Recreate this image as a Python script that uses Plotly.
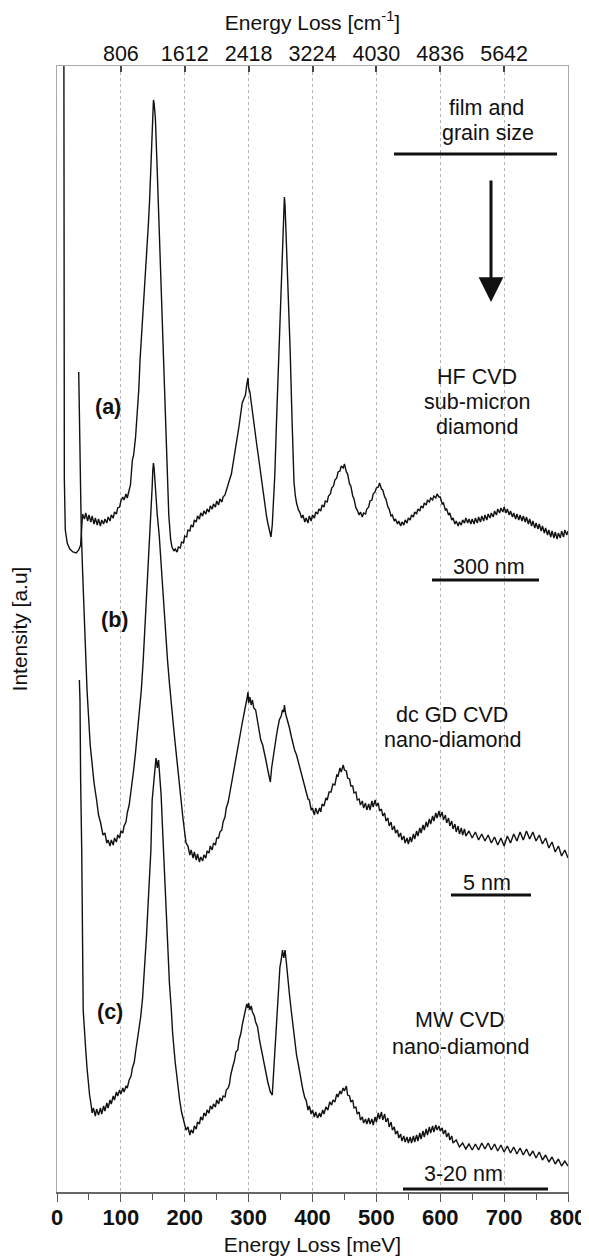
import plotly.graph_objects as go

# ---------------- data (Energy loss in meV, intensity in arbitrary units) -------------
a_mev = [10.5, 11.5, 13, 16, 20, 25, 30, 34, 37, 39,
         40, 43, 45, 48, 50, 53, 55, 58, 60, 63, 65, 68, 70, 73, 75, 78, 80, 83, 85, 88,
         90, 93, 95, 98, 100, 103, 105, 108, 110, 113, 115, 118, 120, 123, 125, 128, 130, 133, 135, 138,
         140, 143, 145, 148, 150, 151, 152, 154, 157, 160, 163, 165, 168, 170, 173, 175, 178, 180, 183, 185,
         188, 190, 193, 195, 198, 200, 203, 205, 208, 210, 213, 215, 218, 220, 223, 225, 228, 230, 233, 235,
         238, 240, 243, 245, 248, 250, 253, 255, 258, 260, 263, 265, 268, 270, 273, 275, 278, 280, 283, 285,
         288, 290, 293, 295, 297, 299, 300, 302, 304, 307, 310, 313, 315, 318, 320, 323, 325, 328, 330, 333,
         335, 337, 339, 341, 344, 347, 350, 353, 355, 356, 357, 359, 362, 365, 368, 371, 373, 375, 378, 380,
         383, 385, 388, 390, 393, 395, 398, 400, 403, 405, 408, 410, 413, 415, 418, 420, 423, 425, 428, 430,
         433, 435, 438, 440, 443, 445, 448, 450, 453, 455, 458, 460, 463, 465, 468, 470, 473, 475, 478, 480,
         483, 485, 488, 490, 493, 495, 498, 500, 503, 505, 508, 510, 513, 515, 518, 520, 523, 525, 528, 530,
         533, 535, 538, 540, 543, 545, 548, 550, 553, 555, 558, 560, 563, 565, 568, 570, 573, 575, 578, 580,
         583, 585, 588, 590, 593, 595, 598, 600, 603, 605, 608, 610, 613, 615, 618, 620, 623, 625, 628, 630,
         633, 635, 638, 640, 643, 645, 648, 650, 653, 655, 658, 660, 663, 665, 668, 670, 673, 675, 678, 680,
         683, 685, 688, 690, 693, 695, 698, 700, 703, 705, 708, 710, 713, 715, 718, 720, 723, 725, 728, 730,
         733, 735, 738, 740, 743, 745, 748, 750, 753, 755, 758, 760, 763, 765, 768, 770, 773, 775, 778, 780,
         783, 785, 788, 790, 793, 795, 798, 800]
a_int = [1300, 712, 662, 649, 643, 640, 639, 642, 647, 677,
         678, 673, 679, 671, 677, 670, 676, 668, 674, 667, 673, 666, 672, 668, 673, 669, 675, 671, 677, 674,
         680, 678, 684, 685, 691, 695, 692, 698, 694, 702, 707, 732, 737, 755, 772, 802, 832, 862, 885, 907,
         930, 967, 992, 1047, 1084, 1092, 1089, 1074, 1020, 965, 902, 866, 812, 774, 715, 677, 652, 645, 641, 643,
         640, 645, 644, 650, 649, 656, 655, 662, 661, 667, 665, 672, 670, 676, 673, 679, 676, 681, 678, 683,
         680, 686, 683, 688, 685, 691, 687, 693, 690, 695, 697, 702, 708, 712, 718, 726, 734, 744, 755, 766,
         780, 789, 794, 797, 807, 814, 804, 800, 790, 777, 762, 746, 737, 722, 712, 697, 687, 676, 669, 660,
         655, 667, 692, 717, 777, 837, 892, 952, 987, 995, 987, 954, 897, 842, 772, 710, 697, 689, 682, 680,
         674, 677, 670, 674, 669, 676, 671, 677, 674, 680, 678, 683, 681, 687, 685, 691, 690, 696, 698, 704,
         706, 712, 714, 720, 721, 726, 724, 728, 720, 718, 708, 706, 696, 693, 684, 682, 677, 680, 675, 679,
         678, 683, 685, 691, 692, 698, 700, 704, 705, 709, 703, 702, 695, 693, 685, 683, 676, 677, 671, 673,
         668, 671, 666, 670, 667, 672, 669, 674, 672, 677, 675, 680, 678, 683, 681, 686, 684, 689, 687, 692,
         690, 694, 692, 696, 694, 698, 695, 695, 688, 689, 682, 683, 677, 679, 672, 674, 668, 671, 666, 670,
         667, 672, 669, 674, 669, 673, 668, 673, 668, 674, 669, 675, 670, 676, 671, 677, 672, 678, 674, 679,
         675, 681, 677, 683, 679, 684, 680, 685, 679, 683, 677, 681, 675, 679, 673, 678, 672, 677, 671, 676,
         670, 675, 668, 673, 666, 671, 664, 669, 663, 668, 661, 666, 659, 664, 657, 662, 655, 661, 654, 660,
         653, 659, 654, 661, 655, 662, 657, 661]

b_mev = [34, 35, 36, 38, 40, 43, 47, 52, 55, 58, 62, 65, 68, 72, 75, 78, 80, 83, 85, 88,
         90, 93, 95, 98, 100, 103, 105, 108, 110, 113, 115, 118, 120, 123, 126, 129, 132, 135, 138, 141,
         144, 147, 149, 150, 151, 152, 153, 155, 157, 160, 163, 165, 168, 170, 173, 176, 178, 181, 184, 186,
         189, 191, 194, 197, 200, 202, 205, 208, 210, 213, 215, 218, 220, 223, 225, 228, 230, 233, 235, 238,
         240, 243, 245, 248, 250, 253, 255, 258, 260, 263, 265, 268, 270, 273, 275, 278, 280, 283, 285, 288,
         290, 293, 295, 297, 299, 300, 302, 304, 306, 308, 311, 314, 316, 319, 322, 325, 327, 330, 332, 334,
         336, 338, 340, 343, 345, 348, 351, 353, 355, 356, 358, 361, 364, 367, 369, 372, 375, 378, 380, 383,
         385, 388, 390, 393, 395, 398, 400, 403, 405, 408, 411, 413, 415, 418, 421, 423, 426, 429, 432, 435,
         438, 440, 443, 445, 448, 450, 453, 455, 458, 460, 463, 465, 468, 470, 473, 475, 478, 480, 483, 485,
         488, 490, 493, 495, 498, 500, 503, 505, 508, 510, 513, 515, 518, 520, 523, 525, 528, 530, 533, 535,
         538, 540, 543, 545, 548, 550, 553, 555, 558, 560, 563, 565, 568, 570, 573, 575, 578, 580, 583, 585,
         588, 590, 593, 595, 598, 600, 603, 605, 608, 610, 613, 615, 618, 620, 623, 625, 628, 630, 633, 635,
         638, 640, 645, 650, 655, 660, 665, 670, 675, 680, 685, 690, 695, 700, 705, 710, 715, 720, 725, 730,
         735, 740, 745, 750, 755, 760, 765, 770, 775, 780, 785, 790, 795, 800]
b_int = [820, 772, 722, 662, 622, 567, 502, 447, 424, 409, 392, 377, 370, 357, 359, 349, 352, 346, 352, 347,
         354, 350, 357, 354, 361, 359, 366, 370, 379, 387, 397, 410, 422, 440, 459, 480, 502, 532, 567, 600,
         637, 677, 705, 722, 729, 724, 712, 687, 677, 657, 627, 609, 577, 559, 532, 509, 492, 475, 455, 442,
         422, 409, 392, 375, 359, 349, 346, 337, 342, 334, 340, 332, 338, 330, 335, 331, 337, 334, 341, 339,
         346, 342, 349, 347, 354, 354, 360, 362, 370, 375, 384, 390, 397, 408, 417, 429, 432, 447, 454, 464,
         469, 479, 484, 492, 500, 489, 495, 487, 492, 484, 482, 470, 464, 452, 447, 436, 432, 422, 417, 410,
         424, 434, 442, 454, 462, 472, 476, 482, 480, 487, 478, 472, 464, 455, 449, 442, 437, 430, 425, 418,
         414, 405, 402, 393, 392, 382, 384, 377, 384, 378, 384, 380, 388, 386, 394, 392, 400, 400, 408, 407,
         417, 416, 424, 420, 427, 422, 421, 414, 413, 406, 406, 399, 400, 392, 393, 387, 391, 384, 389, 382,
         388, 382, 391, 385, 392, 386, 389, 381, 383, 376, 379, 371, 374, 366, 370, 362, 366, 359, 362, 355,
         359, 352, 356, 349, 354, 348, 355, 350, 358, 353, 361, 356, 364, 359, 367, 362, 370, 365, 373, 368,
         376, 371, 379, 374, 381, 375, 380, 372, 377, 369, 374, 366, 371, 363, 368, 360, 366, 358, 364, 357,
         363, 356, 361, 354, 360, 352, 358, 351, 357, 349, 355, 347, 354, 346, 356, 349, 358, 351, 360, 352,
         361, 353, 360, 351, 357, 348, 354, 344, 350, 340, 346, 336, 342, 334]

c_mev = [35, 36, 37, 38.7, 41, 43, 45, 47, 49, 51, 53, 55, 57, 60, 62, 65, 68, 70, 73, 75,
         78, 80, 83, 85, 88, 90, 93, 95, 98, 100, 103, 105, 108, 110, 113, 116, 118, 121, 123, 126,
         129, 131, 134, 137, 140, 142, 145, 147, 149, 151, 153, 155, 156, 157, 159, 161, 163, 165, 167, 170,
         173, 176, 179, 181, 185, 189, 192, 195, 197, 200, 202, 205, 208, 210, 213, 215, 218, 220, 223, 225,
         228, 230, 233, 235, 238, 240, 243, 245, 248, 250, 253, 255, 258, 260, 263, 265, 268, 270, 272, 275,
         278, 280, 283, 285, 288, 290, 293, 295, 297, 299, 300, 302, 304, 306, 309, 311, 314, 317, 320, 323,
         325, 327, 330, 332, 334, 337, 339, 341, 343, 345, 347, 349, 351, 353, 355, 357, 359, 361, 364, 367,
         370, 372, 375, 378, 380, 383, 385, 388, 390, 393, 395, 398, 400, 403, 405, 408, 411, 413, 416, 418,
         421, 424, 427, 430, 432, 435, 438, 440, 443, 445, 448, 450, 453, 455, 458, 460, 463, 465, 468, 470,
         473, 475, 478, 480, 483, 485, 488, 490, 493, 495, 498, 500, 503, 505, 508, 510, 513, 515, 518, 520,
         523, 525, 528, 530, 533, 535, 538, 540, 543, 545, 548, 550, 553, 555, 558, 560, 563, 565, 568, 570,
         573, 575, 578, 580, 583, 585, 588, 590, 593, 595, 598, 600, 603, 605, 608, 610, 613, 615, 618, 620,
         625, 630, 635, 640, 645, 650, 655, 660, 665, 670, 675, 680, 685, 690, 695, 700, 705, 710, 715, 720,
         725, 730, 735, 740, 745, 750, 755, 760, 765, 770, 775, 780, 785, 790, 795, 800]
c_int = [512, 492, 412, 342, 182, 157, 142, 124, 109, 97, 89, 79, 84, 76, 83, 77, 84, 78, 86, 81,
         89, 84, 92, 88, 96, 92, 100, 96, 102, 98, 104, 100, 106, 104, 112, 116, 124, 130, 140, 152,
         164, 175, 194, 220, 255, 280, 312, 342, 392, 407, 422, 434, 430, 424, 432, 415, 397, 367, 337, 292,
         247, 209, 182, 159, 130, 107, 92, 80, 75, 66, 62, 65, 57, 62, 59, 66, 63, 70, 68, 75,
         72, 79, 76, 82, 79, 86, 83, 88, 85, 92, 88, 94, 91, 96, 95, 102, 104, 108, 117, 125,
         132, 140, 142, 152, 159, 167, 175, 180, 188, 184, 189, 182, 186, 180, 176, 170, 165, 152, 142, 132,
         124, 119, 110, 105, 100, 97, 117, 137, 162, 187, 207, 225, 232, 242, 234, 242, 230, 215, 197, 180,
         162, 149, 137, 127, 120, 107, 102, 94, 92, 82, 86, 78, 82, 75, 80, 74, 79, 75, 82, 78,
         85, 82, 90, 87, 92, 90, 98, 95, 101, 98, 104, 101, 106, 97, 96, 90, 92, 84, 85, 78,
         80, 72, 75, 69, 73, 68, 74, 68, 73, 67, 75, 70, 79, 73, 80, 72, 78, 70, 74, 65,
         70, 62, 65, 58, 61, 54, 58, 51, 56, 50, 55, 49, 55, 49, 56, 50, 57, 51, 59, 53,
         61, 55, 63, 57, 65, 59, 66, 60, 67, 62, 66, 61, 64, 58, 62, 55, 59, 52, 56, 49,
         52, 45, 49, 43, 48, 42, 48, 42, 49, 43, 49, 42, 48, 41, 47, 40, 46, 39, 45, 38,
         44, 37, 43, 36, 41, 34, 40, 32, 37, 30, 35, 28, 33, 26, 31, 26]

# tick labels
bottom_tickvals = [0, 100, 200, 300, 400, 500, 600, 700, 800]
bottom_ticktext = ["0", "100", "200", "300", "400", "500", "600", "700", "800"]
top_tickvals = [100, 200, 300, 400, 500, 600, 700]
top_ticktext = ["806", "1612", "2418", "3224", "4030", "4836", "5642"]

# ---------------- figure -------------------------------------------------------------
# the page body adds an 8 px margin, so the figure is drawn 8 px smaller
OFF = 8
W, H = 589 - OFF, 1260 - OFF
L, R, T, B = 57 - OFF, 21, 66 - OFF, 68
PW, PH = W - L - R, H - T - B
FONT = "Liberation Sans, Arial, Helvetica, sans-serif"


def px(xr):
    """reference-window x pixel -> paper x"""
    return (xr - OFF - L) / PW


def py(yr):
    """reference-window y pixel -> paper y"""
    return (H - B - (yr - OFF)) / PH


fig = go.Figure()
line_style = dict(color="#111111", width=1.4)
for name, xs, ys in [("(a) HF CVD sub-micron diamond", a_mev, a_int),
                     ("(b) dc GD CVD nano-diamond", b_mev, b_int),
                     ("(c) MW CVD nano-diamond", c_mev, c_int)]:
    fig.add_trace(go.Scatter(x=xs, y=ys, mode="lines", line=line_style, name=name,
                             showlegend=False))
# carrier for the top (cm^-1) axis
fig.add_trace(go.Scatter(x=a_mev, y=a_int, xaxis="x2", mode="none", showlegend=False,
                         hoverinfo="skip"))

fig.update_layout(
    width=W, height=H, margin=dict(l=L, r=R, t=T, b=B, autoexpand=False),
    paper_bgcolor="white", plot_bgcolor="white",
    font=dict(family=FONT, color="#111111"),
    xaxis=dict(range=[0, 800], tickvals=bottom_tickvals, ticktext=bottom_ticktext,
               tickfont=dict(size=22, weight="bold", family=FONT),
               ticks="outside", ticklen=8, tickwidth=1, tickcolor="#555555",
               ticklabelstandoff=-3,
               minor=dict(dtick=50, ticks="outside", ticklen=6, tickcolor="#555555",
                          showgrid=False),
               showline=True, linecolor="#666666", linewidth=1.5,
               showgrid=True, gridcolor="#b5b5b5", griddash="dot", gridwidth=1,
               zeroline=False,
               title=dict(text="Energy Loss [meV]", font=dict(size=21), standoff=8)),
    xaxis2=dict(range=[0, 800], overlaying="x", side="top", tickvals=top_tickvals,
                ticktext=top_ticktext, tickfont=dict(size=21.5),
                ticks="inside", ticklen=6, tickwidth=2, tickcolor="#444444",
                ticklabelstandoff=-5,
                showline=True, linecolor="#aaaaaa", linewidth=1,
                showgrid=False, zeroline=False,
                title=dict(text="Energy Loss [cm<sup>-1</sup>]", font=dict(size=21), standoff=8)),
    yaxis=dict(range=[0, 1126], showticklabels=False, ticks="", showgrid=False, zeroline=False,
               showline=True, linecolor="#aaaaaa", linewidth=1, mirror=True,
               title=dict(text="Intensity [a.u]", font=dict(size=21), standoff=29)),
)

ann = []


def txt(t, xr, yr, size=21.5, bold=False):
    ann.append(dict(text=t, x=px(xr), y=py(yr), xref="paper", yref="paper",
                    xanchor="center", yanchor="middle", showarrow=False,
                    font=dict(size=size, family=FONT, color="#111111",
                              weight="bold" if bold else "normal")))


txt("film and", 486, 108)
txt("grain size", 488, 133)
txt("HF CVD", 477, 377)
txt("sub-micron", 477, 402)
txt("diamond", 477, 427)
txt("300 nm", 489, 567)
txt("(a)", 108, 407, bold=True)
txt("(b)", 114, 620, bold=True)
txt("(c)", 110, 1012, bold=True)
txt("dc GD CVD", 452, 715)
txt("nano-diamond", 452, 740)
txt("5 nm", 487, 883)
txt("MW CVD", 460, 1020)
txt("nano-diamond", 460, 1047)
txt("3-20 nm", 463, 1174)

# arrow
ann.append(dict(x=px(491), y=py(302), xref="paper", yref="paper", ax=0, ay=-123,
                axref="pixel", ayref="pixel", text="", showarrow=True,
                arrowhead=2, arrowsize=1.65, arrowwidth=3, arrowcolor="#111111"))
fig.update_layout(annotations=ann)

shapes = []
for x0, x1, yy in [(394, 557, 154), (432, 539, 580), (451, 531, 895), (403, 548, 1189)]:
    shapes.append(dict(type="line", xref="paper", yref="paper", x0=px(x0), x1=px(x1),
                       y0=py(yy), y1=py(yy), line=dict(color="#111111", width=3)))
fig.update_layout(shapes=shapes)

fig.write_html("out.html")
